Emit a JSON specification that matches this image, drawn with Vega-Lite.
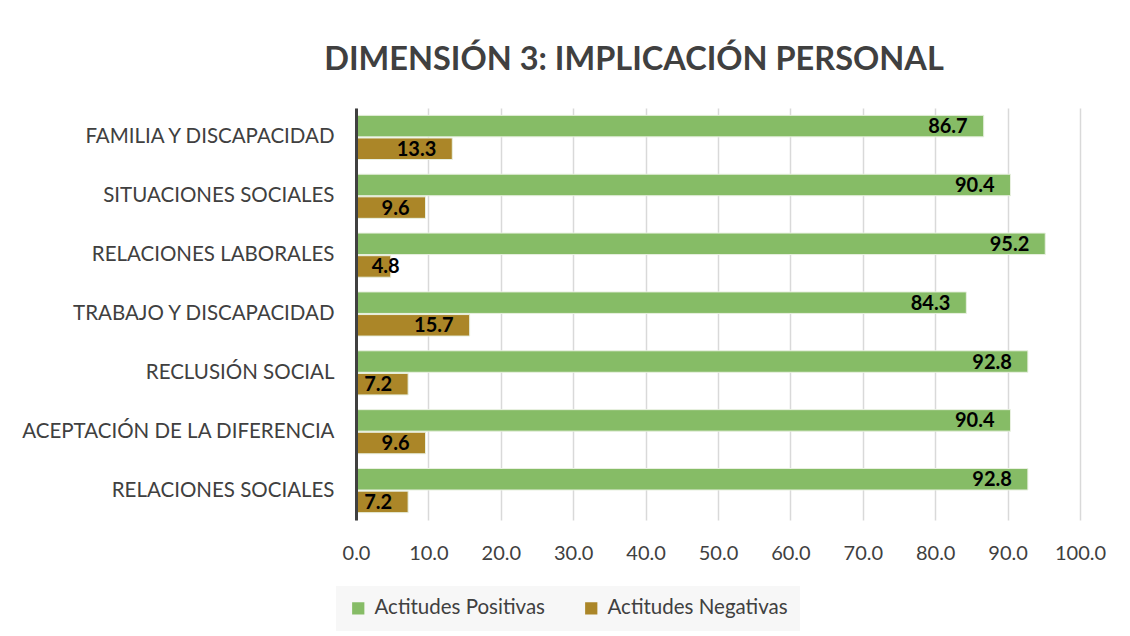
{
  "$schema": "https://vega.github.io/schema/vega-lite/v6.json",
  "width": 724,
  "height": 412,
  "autosize": {"type": "none"},
  "padding": {"left": 356, "top": 108, "right": 50, "bottom": 116},
  "background": "white",
  "title": {
    "text": "DIMENSIÓN 3: IMPLICACIÓN PERSONAL",
    "font": "Lato",
    "fontSize": 32.5,
    "fontWeight": "bold",
    "color": "#404040",
    "anchor": "middle",
    "dx": -84,
    "offset": 32
  },
  "data": {
    "values": [
      {"dim": "FAMILIA Y DISCAPACIDAD", "serie": "Actitudes Positivas", "valor": 86.7},
      {"dim": "FAMILIA Y DISCAPACIDAD", "serie": "Actitudes Negativas", "valor": 13.3},
      {"dim": "SITUACIONES SOCIALES", "serie": "Actitudes Positivas", "valor": 90.4},
      {"dim": "SITUACIONES SOCIALES", "serie": "Actitudes Negativas", "valor": 9.6},
      {"dim": "RELACIONES LABORALES", "serie": "Actitudes Positivas", "valor": 95.2},
      {"dim": "RELACIONES LABORALES", "serie": "Actitudes Negativas", "valor": 4.8},
      {"dim": "TRABAJO Y DISCAPACIDAD", "serie": "Actitudes Positivas", "valor": 84.3},
      {"dim": "TRABAJO Y DISCAPACIDAD", "serie": "Actitudes Negativas", "valor": 15.7},
      {"dim": "RECLUSIÓN SOCIAL", "serie": "Actitudes Positivas", "valor": 92.8},
      {"dim": "RECLUSIÓN SOCIAL", "serie": "Actitudes Negativas", "valor": 7.2},
      {"dim": "ACEPTACIÓN DE LA DIFERENCIA", "serie": "Actitudes Positivas", "valor": 90.4},
      {"dim": "ACEPTACIÓN DE LA DIFERENCIA", "serie": "Actitudes Negativas", "valor": 9.6},
      {"dim": "RELACIONES SOCIALES", "serie": "Actitudes Positivas", "valor": 92.8},
      {"dim": "RELACIONES SOCIALES", "serie": "Actitudes Negativas", "valor": 7.2}
    ]
  },
  "encoding": {
    "y": {
      "field": "dim",
      "type": "nominal",
      "sort": null,
      "title": null,
      "scale": {"paddingInner": 0.25, "paddingOuter": 0.125},
      "axis": {
        "ticks": false,
        "labelFont": "Lato",
        "labelFontSize": 20.5,
        "labelColor": "#404040",
        "labelPadding": 22,
        "domainColor": "#404040",
        "domainWidth": 3,
        "labelLimit": 400,
        "zindex": 2
      }
    },
    "yOffset": {
      "field": "serie",
      "type": "nominal",
      "sort": ["Actitudes Positivas", "Actitudes Negativas"],
      "scale": {"paddingInner": 0.05}
    },
    "x": {
      "field": "valor",
      "type": "quantitative",
      "title": null,
      "scale": {"domain": [0, 100], "nice": false},
      "axis": {
        "values": [0, 10, 20, 30, 40, 50, 60, 70, 80, 90, 100],
        "format": ".1f",
        "ticks": false,
        "domain": false,
        "labelOverlap": false,
        "labelFlush": false,
        "labelFont": "Lato",
        "labelFontSize": 20,
        "labelColor": "#404040",
        "labelPadding": 23,
        "gridColor": "#d9d9d9",
        "gridWidth": 1.5
      }
    }
  },
  "layer": [
    {
      "mark": {"type": "bar", "stroke": "#e8f0e0", "strokeWidth": 1},
      "encoding": {
        "color": {
          "field": "serie",
          "type": "nominal",
          "sort": ["Actitudes Positivas", "Actitudes Negativas"],
          "scale": {"domain": ["Actitudes Positivas", "Actitudes Negativas"], "range": ["#86bc66", "#ab8628"]},
          "legend": {
            "title": null,
            "orient": "none",
            "direction": "horizontal",
            "legendX": -20,
            "legendY": 478,
            "symbolType": "square",
            "symbolSize": 150,
            "symbolStrokeWidth": 0,
            "labelFont": "Lato",
            "labelFontSize": 20.5,
            "labelColor": "#404040",
            "labelOffset": 6,
            "columnPadding": 36,
            "fillColor": "#f7f7f7",
            "padding": 12,
            "labelLimit": 300
          }
        }
      }
    },
    {
      "transform": [{"filter": "datum.valor >= 6"}],
      "mark": {
        "type": "text",
        "align": "right",
        "dx": -16,
        "font": "Lato",
        "fontSize": 20,
        "fontWeight": "bold",
        "color": "black",
        "baseline": "middle",
        "dy": 1
      },
      "encoding": {
        "text": {"field": "valor", "type": "quantitative", "format": ".1f"}
      }
    },
    {
      "transform": [{"filter": "datum.valor < 6"}],
      "mark": {
        "type": "text",
        "align": "left",
        "dx": -19,
        "font": "Lato",
        "fontSize": 20,
        "fontWeight": "bold",
        "color": "black",
        "baseline": "middle",
        "dy": 1
      },
      "encoding": {
        "text": {"field": "valor", "type": "quantitative", "format": ".1f"}
      }
    }
  ],
  "config": {"view": {"stroke": null}}
}
